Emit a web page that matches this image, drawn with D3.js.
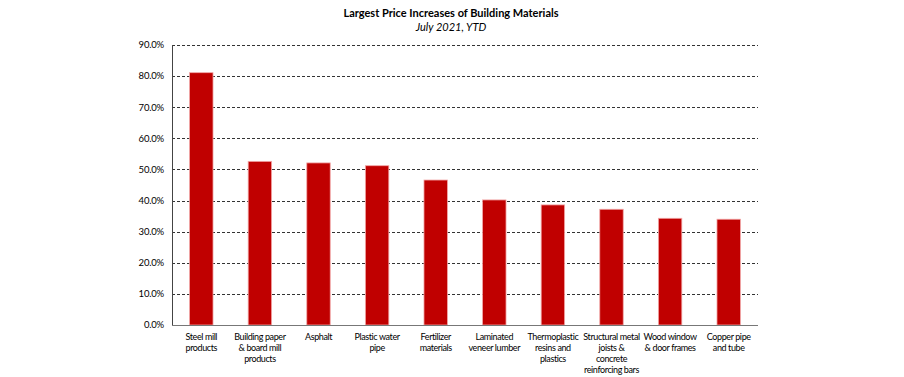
<!DOCTYPE html>
<html>
<head>
<meta charset="utf-8">
<script src="https://cdn.jsdelivr.net/npm/d3@7"></script>
<style>
  body { margin: 0; background: #fff; }
  text { font-family: Lato, "Open Sans", sans-serif; fill: #000; }
</style>
</head>
<body>
<div id="chart"></div>
<script>
/* Categories and YTD price increases (%) */
const categories = [
  ["Steel mill", "products"],
  ["Building paper", "& board mill", "products"],
  ["Asphalt"],
  ["Plastic water", "pipe"],
  ["Fertilizer", "materials"],
  ["Laminated", "veneer lumber"],
  ["Thermoplastic", "resins and", "plastics"],
  ["Structural metal", "joists &", "concrete", "reinforcing bars"],
  ["Wood window", "& door frames"],
  ["Copper pipe", "and tube"]
];
const values = [81.1, 52.6, 52.1, 51.2, 46.6, 40.2, 38.6, 37.2, 34.3, 34.0];
const yTicks = [0, 10, 20, 30, 40, 50, 60, 70, 80, 90];

const width = 904, height = 377;
const margins = { top: 45, right: 146, bottom: 52, left: 172 };

const svg = d3.select("#chart")
  .append("svg")
  .attr("width", width)
  .attr("height", height);

const x = d3.scaleBand()
  .domain(d3.range(categories.length))
  .range([margins.left, width - margins.right])
  .paddingInner(0.6)
  .paddingOuter(0.3);

const y = d3.scaleLinear()
  .domain([0, 90])
  .range([height - margins.bottom, margins.top]);

/* Title */
svg.append("text")
  .attr("x", 451)
  .attr("y", 17)
  .attr("text-anchor", "middle")
  .attr("font-size", "11px")
  .attr("font-weight", "bold")
  .text("Largest Price Increases of Building Materials");

svg.append("text")
  .attr("x", 451)
  .attr("y", 31)
  .attr("text-anchor", "middle")
  .attr("font-size", "11px")
  .attr("font-style", "italic")
  .text("July 2021, YTD");

/* Dashed gridlines */
svg.append("g")
  .selectAll("line")
  .data(yTicks.filter(d => d > 0))
  .join("line")
    .attr("x1", margins.left)
    .attr("x2", width - margins.right)
    .attr("y1", d => Math.round(y(d)) + 0.5)
    .attr("y2", d => Math.round(y(d)) + 0.5)
    .attr("stroke", "#333")
    .attr("stroke-width", 1)
    .attr("stroke-dasharray", "3,2");

/* Bars */
svg.append("g")
  .selectAll("rect")
  .data(values)
  .join("rect")
    .attr("x", (d, i) => x(i))
    .attr("y", d => y(d))
    .attr("width", x.bandwidth())
    .attr("height", d => y(0) - y(d))
    .attr("fill", "#c00000")
    .attr("stroke", "#f2a7a7")
    .attr("stroke-width", 0.8);

/* Y axis labels */
svg.append("g")
  .selectAll("text")
  .data(yTicks)
  .join("text")
    .attr("x", margins.left - 8)
    .attr("y", d => y(d))
    .attr("dy", "0.35em")
    .attr("text-anchor", "end")
    .attr("font-size", "9.5px")
    .attr("letter-spacing", "-0.2px")
    .text(d => d.toFixed(1) + "%");

/* Axis lines */
svg.append("line")
  .attr("x1", margins.left + 0.5)
  .attr("x2", margins.left + 0.5)
  .attr("y1", y(90))
  .attr("y2", y(0))
  .attr("stroke", "#444");

svg.append("line")
  .attr("x1", margins.left)
  .attr("x2", width - margins.right)
  .attr("y1", Math.round(y(0)) + 0.5)
  .attr("y2", Math.round(y(0)) + 0.5)
  .attr("stroke", "#777");

/* Category labels */
const labels = svg.append("g")
  .selectAll("text")
  .data(categories)
  .join("text")
    .attr("x", (d, i) => x(i) + x.bandwidth() / 2)
    .attr("y", 340)
    .attr("text-anchor", "middle")
    .attr("font-size", "9px")
    .attr("letter-spacing", "-0.4px");

labels.selectAll("tspan")
  .data(d => d)
  .join("tspan")
    .attr("x", function () { return this.parentNode.getAttribute("x"); })
    .attr("dy", (d, i) => i === 0 ? 0 : 11)
    .text(d => d);
</script>
</body>
</html>
